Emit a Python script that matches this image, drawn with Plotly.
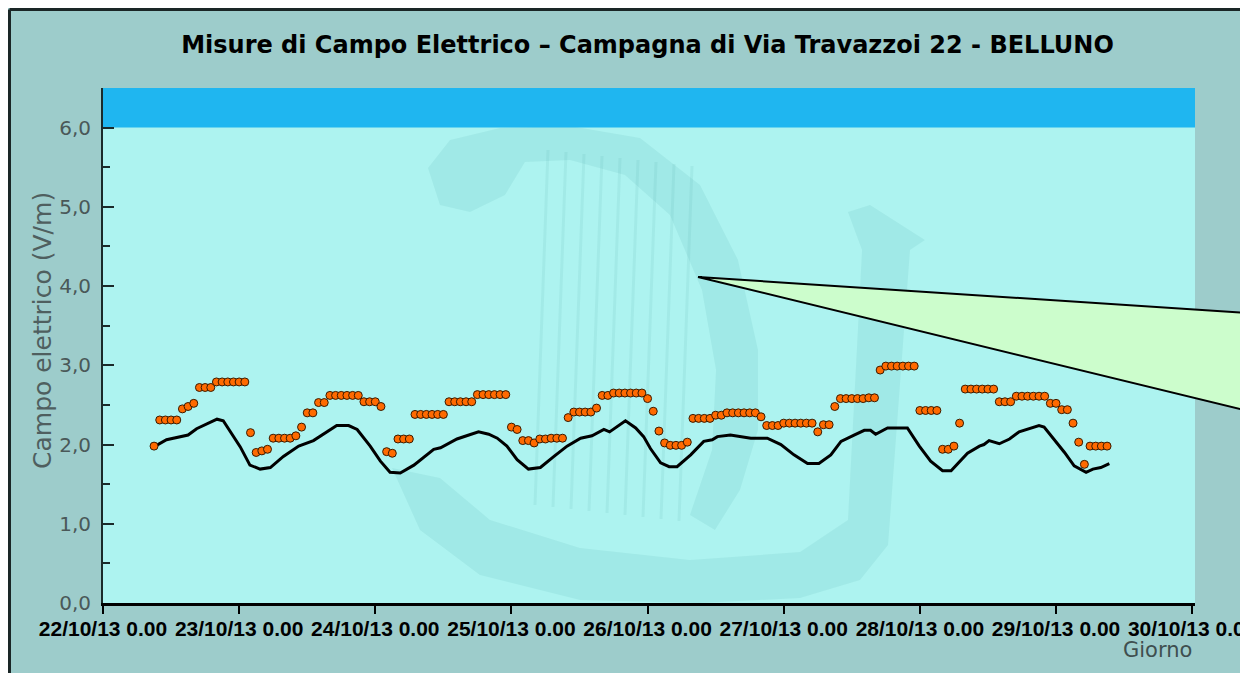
import pandas as pd
import plotly.graph_objects as go

# ---------------- data ----------------
title_text = "Misure di Campo Elettrico – Campagna di Via Travazzoi 22 - BELLUNO"
y_title = "Campo elettrico (V/m)"
x_title = "Giorno"

start_day = "2013-10-22 00:00"
first_hour = 9  # first hourly measurement

# hourly measurements (orange dots)
pt_values = [
    1.98,
    2.31, 2.31, 2.31, 2.31,
    2.45, 2.48, 2.52,
    2.72, 2.72, 2.72,
    2.79, 2.79, 2.79, 2.79, 2.79, 2.79,
    2.15, 1.90, 1.92, 1.94,
    2.08, 2.08, 2.08, 2.08,
    2.11, 2.22,
    2.40, 2.40, 2.53, 2.53,
    2.62, 2.62, 2.62, 2.62, 2.62, 2.62,
    2.54, 2.54, 2.54,
    2.48, 1.91, 1.89,
    2.07, 2.07, 2.07,
    2.38, 2.38, 2.38, 2.38, 2.38, 2.38,
    2.54, 2.54, 2.54, 2.54, 2.54,
    2.63, 2.63, 2.63, 2.63, 2.63, 2.63,
    2.22, 2.19, 2.05, 2.05, 2.02, 2.07, 2.07, 2.08, 2.08, 2.08,
    2.34,
    2.41, 2.41, 2.41, 2.41,
    2.46, 2.62, 2.62,
    2.65, 2.65, 2.65, 2.65, 2.65, 2.65,
    2.58, 2.42, 2.17, 2.02,
    1.99, 1.99, 1.99, 2.03,
    2.33, 2.33, 2.33, 2.33,
    2.37, 2.37,
    2.40, 2.40, 2.40, 2.40, 2.40, 2.40,
    2.35, 2.24, 2.24, 2.24,
    2.27, 2.27, 2.27, 2.27, 2.27, 2.27,
    2.16, 2.25, 2.25, 2.48,
    2.58, 2.58, 2.58, 2.58, 2.58, 2.59, 2.59,
    2.94, 2.99, 2.99, 2.99, 2.99, 2.99, 2.99,
    2.43, 2.43, 2.43, 2.43,
    1.94, 1.94, 1.98, 2.27,
    2.70, 2.70, 2.70, 2.70, 2.70, 2.70,
    2.54, 2.54, 2.54,
    2.61, 2.61, 2.61, 2.61, 2.61, 2.61,
    2.52, 2.52, 2.44, 2.44, 2.27, 2.03, 1.75,
    1.98, 1.98, 1.98, 1.98,
]

# black trend line (hours since start, value)
line_hours = [
    9.2, 11.2, 15.0, 16.5, 20.1, 21.2, 24.2, 25.9, 27.7, 29.5,
    31.8, 34.5, 37.1, 39.5, 41.2, 43.3, 44.8, 47.1, 48.9, 50.6,
    52.4, 54.8, 58.3, 59.5, 62.4, 64.5, 66.2, 68.0, 69.5, 71.2,
    73.0, 75.0, 77.1, 79.5, 81.8, 84.2, 86.2, 88.3, 89.3, 92.1,
    93.9, 95.3, 96.5, 98.3, 99.8, 101.2, 103.6, 105.9, 107.4, 108.3,
    110.6, 114.2, 117.1, 119.5, 121.8, 124.2, 126.2, 128.3, 130.1, 132.4,
    134.2, 135.3, 136.2, 138.3, 141.8, 143.9, 145.9, 148.0, 149.5, 152.4,
    154.5, 155.3, 156.2, 158.0, 159.8, 161.5, 163.3, 165.0, 165.9, 167.7,
    169.5, 171.2, 173.3, 174.5, 175.9, 177.4,
]
line_values = [
    1.98, 2.06, 2.12, 2.20, 2.32, 2.30, 1.97, 1.74, 1.69, 1.71,
    1.85, 1.98, 2.05, 2.16, 2.24, 2.24, 2.19, 1.98, 1.79, 1.65,
    1.64, 1.74, 1.94, 1.96, 2.07, 2.12, 2.16, 2.13, 2.08, 1.98,
    1.81, 1.69, 1.71, 1.85, 1.98, 2.08, 2.11, 2.19, 2.16, 2.30,
    2.21, 2.10, 1.95, 1.77, 1.72, 1.72, 1.87, 2.04, 2.06, 2.10,
    2.12, 2.08, 2.08, 2.00, 1.87, 1.76, 1.76, 1.87, 2.04, 2.12,
    2.18, 2.18, 2.13, 2.21, 2.21, 1.98, 1.79, 1.67, 1.67, 1.89,
    1.98, 2.00, 2.05, 2.01, 2.07, 2.16, 2.20, 2.24, 2.22, 2.06,
    1.90, 1.73, 1.65, 1.69, 1.71, 1.76,
]

day_ticks = ["2013-10-22", "2013-10-23", "2013-10-24", "2013-10-25", "2013-10-26",
             "2013-10-27", "2013-10-28", "2013-10-29", "2013-10-30"]
day_labels = ["22/10/13 0.00", "23/10/13 0.00", "24/10/13 0.00", "25/10/13 0.00",
              "26/10/13 0.00", "27/10/13 0.00", "28/10/13 0.00", "29/10/13 0.00",
              "30/10/13 0.00"]
y_ticks = [0, 1, 2, 3, 4, 5, 6]
y_labels = ["0,0", "1,0", "2,0", "3,0", "4,0", "5,0", "6,0"]
limit_low, limit_high = 6.0, 6.5

# ---------------- geometry helpers ----------------
# the page has an 8 px body margin; reference pixel = figure pixel + 8
OFF = 8
W, H = 1240, 665
ML, MT = 103 - OFF, 88 - OFF
MR = W - (1195 - OFF)
MB = H - (603 - OFF)
PW, PH = W - ML - MR, H - MT - MB


def dom(px, py):
    """reference-image pixel -> plot-domain fraction"""
    return (px - 103) / PW, (603 - py) / PH


def path_from(points):
    s = ""
    for i, (px, py) in enumerate(points):
        x, y = dom(px, py)
        s += ("M" if i == 0 else "L") + f"{x:.4f},{y:.4f} "
    return s + "Z"


t0 = pd.Timestamp(start_day)
pt_x = pd.date_range(t0 + pd.Timedelta(hours=first_hour), periods=len(pt_values), freq="h")
line_x = [t0 + pd.Timedelta(hours=h) for h in line_hours]

fig = go.Figure()
fig.add_trace(go.Scatter(
    x=line_x, y=line_values, mode="lines",
    line=dict(color="black", width=3), hoverinfo="skip", showlegend=False))
fig.add_trace(go.Scatter(
    x=pt_x, y=pt_values, mode="markers",
    marker=dict(color="#FF6A00", size=8, line=dict(color="#3A1A00", width=1)),
    showlegend=False))

shapes = []
# black frame (top and left visible)
x_fr, y_fr = dom(9.5, 9.5)
shapes.append(dict(type="line", xref="paper", yref="paper",
                   x0=x_fr, x1=1.2, y0=y_fr, y1=y_fr, line=dict(color="#1a2626", width=3),
                   layer="below"))
shapes.append(dict(type="line", xref="paper", yref="paper",
                   x0=x_fr, x1=x_fr, y0=-0.5, y1=y_fr, line=dict(color="#1a2626", width=3),
                   layer="below"))

# watermark (faint harp)
wm = "rgba(0,110,110,0.07)"
harp_arc = [(440, 205), (428, 168), (450, 140), (500, 128), (570, 126), (640, 138),
            (700, 185), (738, 260), (758, 350), (758, 430), (740, 490), (715, 530),
            (690, 515), (712, 450), (716, 370), (702, 290), (670, 215), (625, 175),
            (570, 160), (525, 162), (505, 195), (470, 212)]
shapes.append(dict(type="path", xref="x domain", yref="y domain", path=path_from(harp_arc),
                   fillcolor=wm, line_width=0, layer="below"))
boat = [(392, 468), (420, 530), (480, 575), (580, 600), (700, 603), (800, 598),
        (860, 580), (888, 545), (910, 250), (925, 240), (870, 205), (848, 212),
        (862, 250), (848, 520), (800, 552), (690, 560), (580, 548), (490, 520),
        (440, 478)]
shapes.append(dict(type="path", xref="x domain", yref="y domain", path=path_from(boat),
                   fillcolor=wm, line_width=0, layer="below"))
for i in range(9):
    xa, ya = dom(548 + i * 18, 150 + i * 2)
    xb, yb = dom(535 + i * 18, 505 + i * 2)
    shapes.append(dict(type="line", xref="x domain", yref="y domain",
                       x0=xa, y0=ya, x1=xb, y1=yb,
                       line=dict(color="rgba(0,110,110,0.06)", width=3), layer="below"))

# limit band 6.0 - 6.5
shapes.append(dict(type="rect", xref="x domain", yref="y", x0=0, x1=1,
                   y0=limit_low, y1=limit_high, fillcolor="#1FB6F0", line_width=0,
                   layer="below"))

# callout wedge
tip = dom(698, 277)
up = dom(1248, 313)
lo = dom(1248, 411)
callout = f"M{tip[0]:.4f},{tip[1]:.4f} L{up[0]:.4f},{up[1]:.4f} L{lo[0]:.4f},{lo[1]:.4f} Z"
shapes.append(dict(type="path", xref="paper", yref="paper", path=callout,
                   fillcolor="#CCFDCC", line=dict(color="black", width=2), layer="above"))

annotations = [
    dict(text=y_title, xref="paper", yref="paper", x=dom(42, 0)[0], y=dom(0, 331)[1],
         textangle=-90, showarrow=False, xanchor="center", yanchor="middle",
         font=dict(family="DejaVu Sans", size=25, color="#4f5f5f")),
    dict(text=x_title, xref="paper", yref="paper", x=dom(1194, 0)[0], y=dom(0, 650)[1],
         showarrow=False, xanchor="right", yanchor="middle",
         font=dict(family="DejaVu Sans", size=21, color="#3f4f4f")),
]

fig.update_layout(
    width=W, height=H,
    margin=dict(l=ML, r=MR, t=MT, b=MB),
    paper_bgcolor="#9DCCCB",
    plot_bgcolor="#ADF3F0",
    title=dict(text=f"<b>{title_text}</b>", x=(647.5 - OFF) / W, xanchor="center",
               y=1 - (45 - OFF) / H, yanchor="middle", xref="container", yref="container",
               font=dict(family="DejaVu Sans", size=24, color="black")),
    shapes=shapes,
    annotations=annotations,
    xaxis=dict(
        type="date",
        range=[t0, t0 + pd.Timedelta(hours=192.5)],
        tickvals=day_ticks, ticktext=day_labels,
        ticks="outside", ticklen=8, tickwidth=2, tickcolor="black",
        showline=True, linecolor="black", linewidth=3,
        showgrid=False, zeroline=False,
        tickfont=dict(family="Liberation Sans", size=21, color="black", weight="bold"),
        ticklabeloverflow="allow",
        ticklabelstandoff=-3,
        automargin=False,
    ),
    yaxis=dict(
        range=[0, 6.5],
        tickvals=y_ticks, ticktext=y_labels,
        ticks="inside", ticklen=11, tickwidth=2, tickcolor="#1a2a2a",
        minor=dict(dtick=0.5, tick0=0, ticks="inside", ticklen=7, tickwidth=2,
                   tickcolor="#1a2a2a", showgrid=False),
        showline=True, linecolor="#1a2a2a", linewidth=2,
        showgrid=False, zeroline=False,
        tickfont=dict(family="DejaVu Sans", size=20, color="#4a5858"),
        ticklabelstandoff=6,
        automargin=False,
    ),
)

fig.write_html("out.html")
